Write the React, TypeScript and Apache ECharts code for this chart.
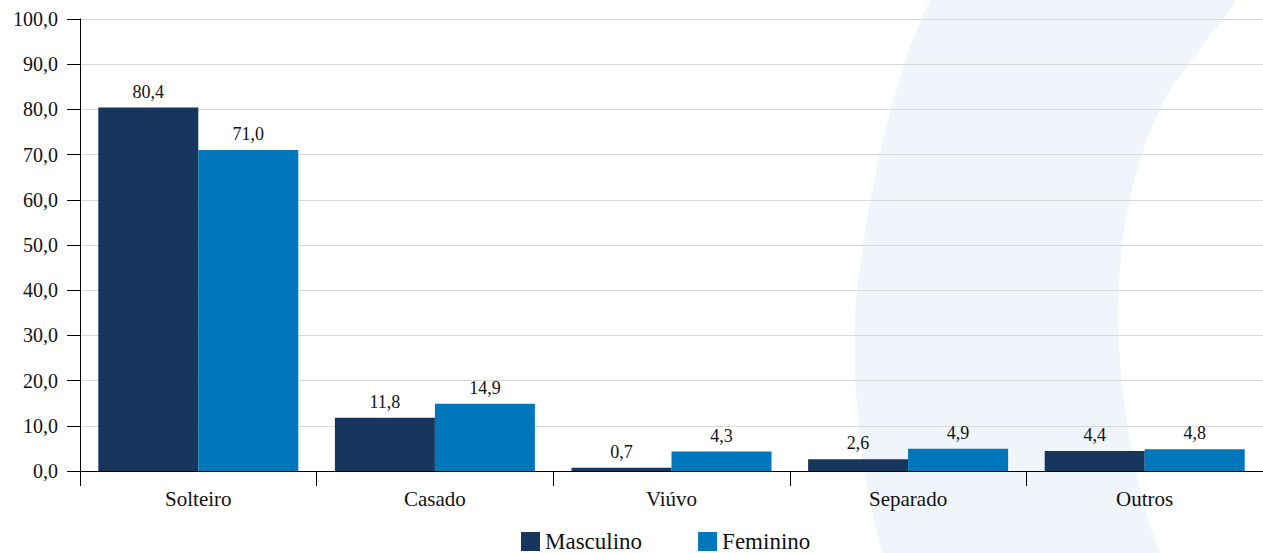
import React, { useEffect, useRef } from "react";
import * as echarts from "echarts";

const categories = ["Solteiro", "Casado", "Viúvo", "Separado", "Outros"];
const masculino = [80.4, 11.8, 0.7, 2.6, 4.4];
const feminino = [71.0, 14.9, 4.3, 4.9, 4.8];
const seriesNames = ["Masculino", "Feminino"];

const fmt = (v: number) => v.toFixed(1).replace(".", ",");

const ARC_PATH =
  "M 930 0 C 895 70, 868 190, 856 300 C 850 380, 862 480, 882 553 L 1160 553 C 1135 490, 1120 400, 1118 320 C 1118 230, 1135 150, 1173 85 L 1237 0 Z";

export default function App() {
  const ref = useRef<HTMLDivElement>(null);
  useEffect(() => {
    if (!ref.current) return;
    try {
      echarts.graphic.registerShape("arcband", echarts.graphic.extendPath(ARC_PATH, {}));
    } catch (e) {}
    const chart = echarts.init(ref.current, undefined, { renderer: "svg" });
    const font = "Liberation Serif";
    chart.setOption({
      animation: false,
      backgroundColor: "#ffffff",
      textStyle: { fontFamily: font },
      graphic: [
        {
          type: "arcband",
          x: 0,
          y: 0,
          z: -10,
          silent: true,
          style: { fill: "#eff5fa" },
        },
      ],
      grid: { left: 80, right: 0, top: 19, bottom: 82, containLabel: false },
      legend: {
        data: seriesNames,
        left: 516,
        top: 525,
        itemWidth: 19,
        itemHeight: 19,
        itemGap: 56,
        icon: "rect",
        textStyle: { fontFamily: font, fontSize: 23, color: "#111" },
      },
      xAxis: {
        type: "category",
        data: categories,
        axisLine: { show: true, lineStyle: { color: "#000", width: 1 } },
        axisTick: { show: true, length: 15, lineStyle: { color: "#000" } },
        axisLabel: { fontFamily: font, fontSize: 21, color: "#111", margin: 17 },
      },
      yAxis: {
        type: "value",
        min: 0,
        max: 100,
        interval: 10,
        axisLine: { show: true, lineStyle: { color: "#000", width: 1 } },
        axisTick: { show: true, length: 13, lineStyle: { color: "#000" } },
        axisLabel: { fontFamily: font, fontSize: 20, color: "#111", margin: 22, formatter: (v: number) => fmt(v) },
        splitLine: { show: true, lineStyle: { color: "#d9d9d9", width: 1 } },
      },
      series: [
        {
          name: seriesNames[0],
          type: "bar",
          data: masculino,
          barWidth: 100,
          barGap: "0%",
          itemStyle: { color: "#17365d" },
          label: {
            show: true,
            position: "top",
            distance: 7,
            fontFamily: font,
            fontSize: 18,
            color: "#111",
            formatter: (p: any) => fmt(p.value),
          },
        },
        {
          name: seriesNames[1],
          type: "bar",
          data: feminino,
          barWidth: 100,
          barGap: "0%",
          itemStyle: { color: "#0076bb" },
          label: {
            show: true,
            position: "top",
            distance: 7,
            fontFamily: font,
            fontSize: 18,
            color: "#111",
            formatter: (p: any) => fmt(p.value),
          },
        },
      ],
    });
    return () => chart.dispose();
  }, []);
  return (
    <div
      ref={ref}
      style={{ position: "fixed", left: 0, top: 0, width: 1263, height: 553 }}
    />
  );
}
